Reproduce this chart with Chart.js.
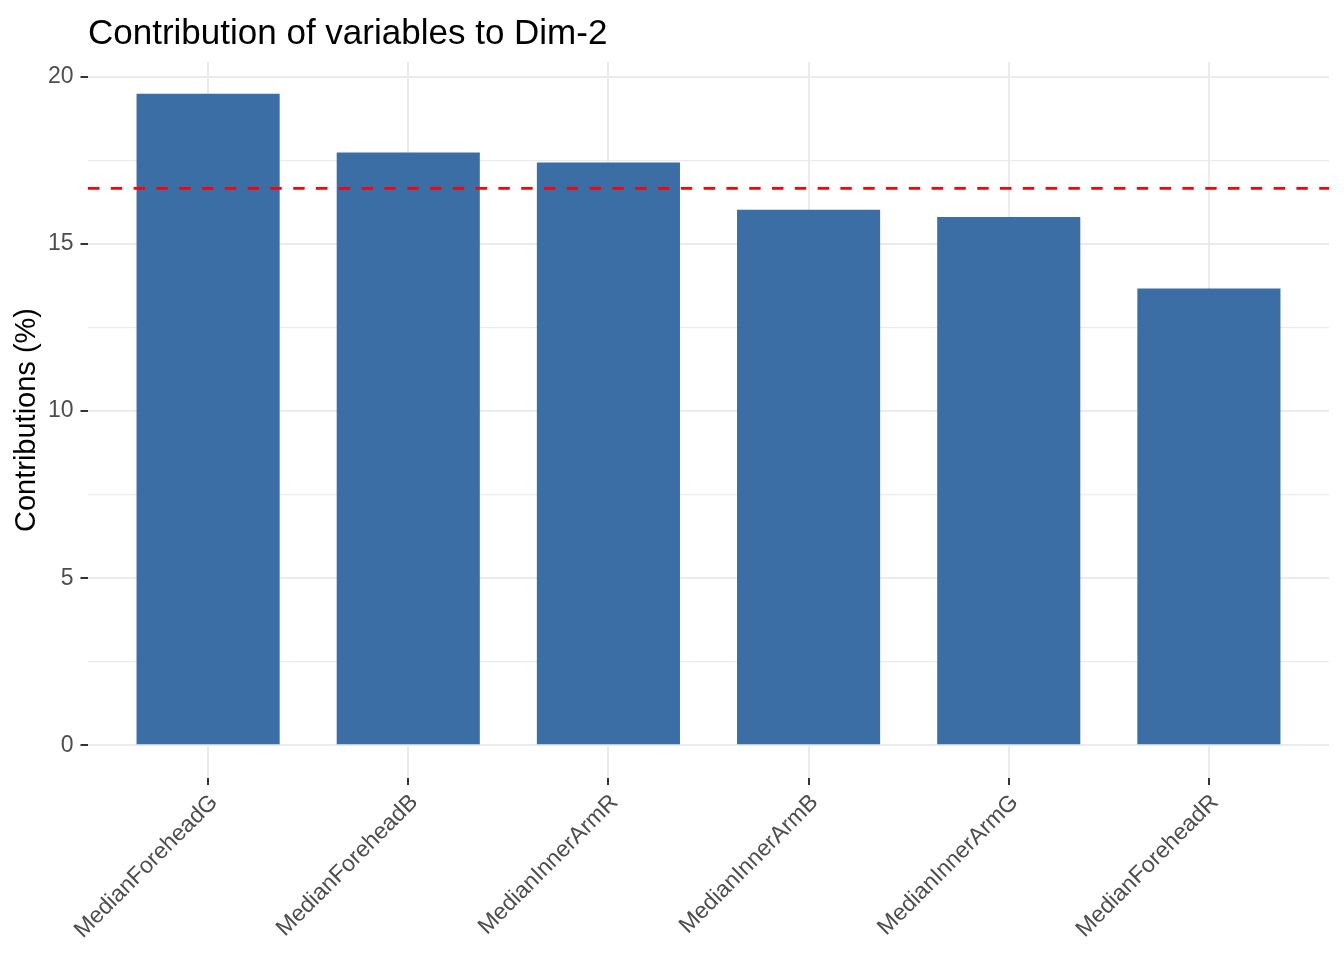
<!DOCTYPE html>
<html>
<head>
<meta charset="utf-8">
<title>Contribution of variables to Dim-2</title>
<script src="https://cdn.jsdelivr.net/npm/chart.js@4.4.1/dist/chart.umd.min.js"></script>
<style>
  html, body { margin: 0; padding: 0; background: #fff; }
  canvas { display: block; }
</style>
</head>
<body>
<canvas id="chart-contrib" width="1344" height="960"></canvas>
<script>
const plotTitle = 'Contribution of variables to Dim-2';
const yTitle = 'Contributions (%)';
const categories = ['MedianForeheadG', 'MedianForeheadB', 'MedianInnerArmR', 'MedianInnerArmB', 'MedianInnerArmG', 'MedianForeheadR'];
const contributions = [19.50, 17.74, 17.44, 16.03, 15.81, 13.67];
const yTicks = [0, 2.5, 5, 7.5, 10, 12.5, 15, 17.5, 20];
// expected average contribution if all variables were uniform
const expected = 100 / categories.length;

Chart.defaults.font.family = '"Liberation Sans", Arial, Helvetica, sans-serif';

// ggplot style title, left-aligned with the panel
const titlePlugin = {
  id: 'plotTitle',
  afterDraw(chart) {
    const { ctx, chartArea } = chart;
    ctx.save();
    ctx.font = '35px "Liberation Sans", Arial, sans-serif';
    ctx.fillStyle = '#000';
    ctx.textAlign = 'left';
    ctx.textBaseline = 'alphabetic';
    ctx.fillText(plotTitle, chartArea.left, 44);
    ctx.restore();
  }
};

const isMajor = v => v % 5 === 0;

new Chart(document.getElementById('chart-contrib'), {
  data: {
    datasets: [
      {
        type: 'bar',
        data: categories.map((c, i) => ({ x: i + 1, y: contributions[i] })),
        backgroundColor: '#3A6EA5',
        categoryPercentage: 1,
        barPercentage: 0.715,
        order: 2
      },
      {
        type: 'line',
        data: [{ x: 0.4, y: expected }, { x: 6.6, y: expected }],
        borderColor: '#FF0000',
        borderWidth: 2.8,
        borderDash: [11.4, 11.4],
        pointRadius: 0,
        fill: false,
        order: 1
      }
    ]
  },
  options: {
    responsive: false,
    animation: false,
    devicePixelRatio: 1,
    layout: { padding: { top: 62, right: 15, bottom: 0, left: 0 } },
    plugins: { legend: { display: false }, tooltip: { enabled: false } },
    scales: {
      x: {
        type: 'linear',
        offset: false,
        min: 0.4,
        max: 6.6,
        afterBuildTicks: axis => { axis.ticks = categories.map((c, i) => ({ value: i + 1 })); },
        afterFit: scale => { scale.height = 182; },
        border: { display: false },
        grid: { offset: false, color: '#EBEBEB', lineWidth: 2, tickColor: '#333333', tickLength: 7, tickWidth: 2 },
        ticks: {
          autoSkip: false,
          minRotation: 45,
          maxRotation: 45,
          padding: 4,
          labelOffset: 6,
          color: '#4D4D4D',
          font: { size: 23 },
          callback: v => categories[v - 1] ?? ''
        }
      },
      y: {
        type: 'linear',
        min: -0.98,
        max: 20.45,
        afterBuildTicks: axis => { axis.ticks = yTicks.map(v => ({ value: v })); },
        afterFit: scale => { scale.width = 88; },
        border: { display: false },
        grid: {
          color: '#EBEBEB',
          lineWidth: ctx => (ctx.tick && isMajor(ctx.tick.value) ? 2 : 1.3),
          tickColor: ctx => (ctx.tick && isMajor(ctx.tick.value) ? '#333333' : 'rgba(0,0,0,0)'),
          tickLength: 7.5,
          tickWidth: 2
        },
        ticks: {
          padding: 7,
          color: '#4D4D4D',
          font: { size: 23 },
          callback: v => (isMajor(v) ? v : '')
        },
        title: {
          display: true,
          text: yTitle,
          color: '#000',
          font: { size: 29 },
          padding: { top: 10, bottom: 0 }
        }
      }
    }
  },
  plugins: [titlePlugin]
});
</script>
</body>
</html>
